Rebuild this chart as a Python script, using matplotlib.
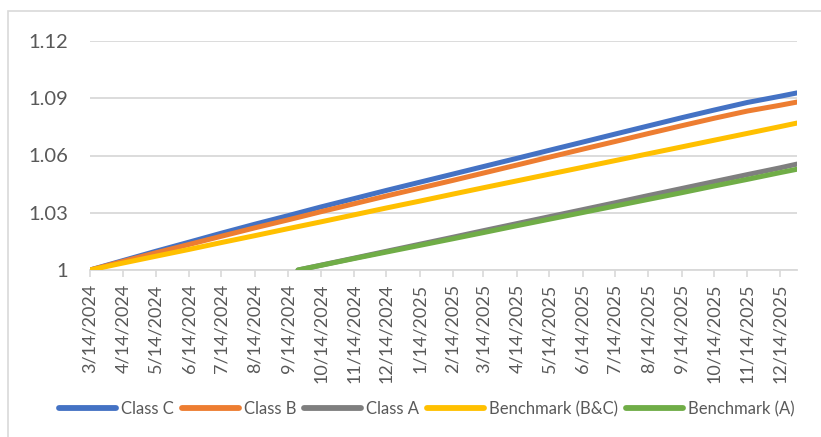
import matplotlib
matplotlib.use("Agg")
import matplotlib.pyplot as plt
from matplotlib.patches import Rectangle
import pandas as pd

# ---- data ----
dates_bc = ["2024-03-14", "2024-04-14", "2024-05-14", "2024-06-14", "2024-07-14",
            "2024-08-14", "2024-09-14", "2024-10-14", "2024-11-14", "2024-12-14",
            "2025-01-14", "2025-02-14", "2025-03-14", "2025-04-14", "2025-05-14",
            "2025-06-14", "2025-07-14", "2025-08-14", "2025-09-14", "2025-10-14",
            "2025-11-14", "2025-12-14", "2025-12-30"]
class_c = [1.0000, 1.0050, 1.0098, 1.0146, 1.0193, 1.0240, 1.0285, 1.0330, 1.0374,
           1.0417, 1.0460, 1.0503, 1.0542, 1.0585, 1.0627, 1.0670, 1.0712, 1.0755,
           1.0798, 1.0838, 1.0878, 1.0910, 1.0928]
class_b = [1.0000, 1.0046, 1.0090, 1.0134, 1.0177, 1.0221, 1.0263, 1.0305, 1.0347,
           1.0388, 1.0429, 1.0470, 1.0508, 1.0550, 1.0591, 1.0633, 1.0673, 1.0715,
           1.0756, 1.0795, 1.0833, 1.0863, 1.0880]
bench_bc = [1.0000, 1.0037, 1.0072, 1.0108, 1.0144, 1.0180, 1.0217, 1.0252, 1.0289,
            1.0325, 1.0361, 1.0398, 1.0431, 1.0467, 1.0502, 1.0538, 1.0573, 1.0609,
            1.0645, 1.0680, 1.0716, 1.0751, 1.0770]

dates_a = ["2024-09-23", "2024-10-14", "2024-11-14", "2024-12-14", "2025-01-14",
           "2025-02-14", "2025-03-14", "2025-04-14", "2025-05-14", "2025-06-14",
           "2025-07-14", "2025-08-14", "2025-09-14", "2025-10-14", "2025-11-14",
           "2025-12-14", "2025-12-30"]
class_a = [1.0000, 1.0025, 1.0062, 1.0098, 1.0135, 1.0172, 1.0206, 1.0243, 1.0279,
           1.0316, 1.0352, 1.0390, 1.0427, 1.0463, 1.0500, 1.0535, 1.0555]
bench_a = [1.0000, 1.0024, 1.0060, 1.0094, 1.0129, 1.0164, 1.0196, 1.0232, 1.0266,
           1.0301, 1.0335, 1.0370, 1.0405, 1.0440, 1.0475, 1.0510, 1.0528]

xtick_dates = ["2024-03-14", "2024-04-14", "2024-05-14", "2024-06-14", "2024-07-14",
               "2024-08-14", "2024-09-14", "2024-10-14", "2024-11-14", "2024-12-14",
               "2025-01-14", "2025-02-14", "2025-03-14", "2025-04-14", "2025-05-14",
               "2025-06-14", "2025-07-14", "2025-08-14", "2025-09-14", "2025-10-14",
               "2025-11-14", "2025-12-14"]
yticks = [1.00, 1.03, 1.06, 1.09, 1.12]
ytick_labels = ["1", "1.03", "1.06", "1.09", "1.12"]

# ---- plot ----
FONT = "Lato"
W, H = 821, 437
fig = plt.figure(figsize=(W / 100, H / 100), dpi=100)
ax = fig.add_axes([90 / W, 1 - 270 / H, (797 - 90) / W, (270 - 41) / H])

d_bc = pd.to_datetime(dates_bc)
d_a = pd.to_datetime(dates_a)
lw = 3.6
ax.plot(d_bc, class_c, color="#4472C4", lw=lw, label="Class C", solid_capstyle="round")
ax.plot(d_bc, class_b, color="#ED7D31", lw=lw, label="Class B", solid_capstyle="round")
ax.plot(d_a, class_a, color="#7F7F7F", lw=lw, label="Class A", solid_capstyle="round")
ax.plot(d_bc, bench_bc, color="#FFC000", lw=lw, label="Benchmark (B&C)", solid_capstyle="round")
ax.plot(d_a, bench_a, color="#70AD47", lw=lw, label="Benchmark (A)", solid_capstyle="round")

ax.set_ylim(1.0, 1.12)
ax.set_xlim(pd.Timestamp("2024-03-14"), pd.Timestamp("2025-12-30"))
ax.set_yticks(yticks)
ax.set_yticklabels(ytick_labels, fontsize=14.5, color="#595959", family=FONT)
ax.tick_params(axis="y", length=0, pad=16)

xt = pd.to_datetime(xtick_dates)
ax.set_xticks(xt)
ax.set_xticklabels([f"{d.month}/{d.day}/{d.year}" for d in xt], rotation=90,
                   fontsize=13, color="#595959", family=FONT)
ax.tick_params(axis="x", length=5, width=1.2, color="#D9D9D9", pad=5)

ax.grid(axis="y", color="#D9D9D9", lw=1.3)
ax.set_axisbelow(True)
for s in ["left", "right", "top"]:
    ax.spines[s].set_visible(False)
ax.spines["bottom"].set_color("#D9D9D9")
ax.spines["bottom"].set_linewidth(1.3)
ax.spines["bottom"].set_zorder(0.5)

leg = fig.legend(loc="center", bbox_to_anchor=(427 / W, 1 - 409 / H), ncol=5,
                 frameon=False, handlelength=3.4, handletextpad=0.3, columnspacing=0.5,
                 prop={"family": FONT, "size": 12})
for t in leg.get_texts():
    t.set_color("#595959")
for h in leg.legend_handles:
    h.set_linewidth(4.2)

fig.patches.append(Rectangle((8 / W, -0.05), 1.2, 1 - 11 / H + 0.05,
                             transform=fig.transFigure, fill=False,
                             edgecolor="#D9D9D9", lw=1.2, zorder=-1))

fig.savefig("out.png", dpi=100)
